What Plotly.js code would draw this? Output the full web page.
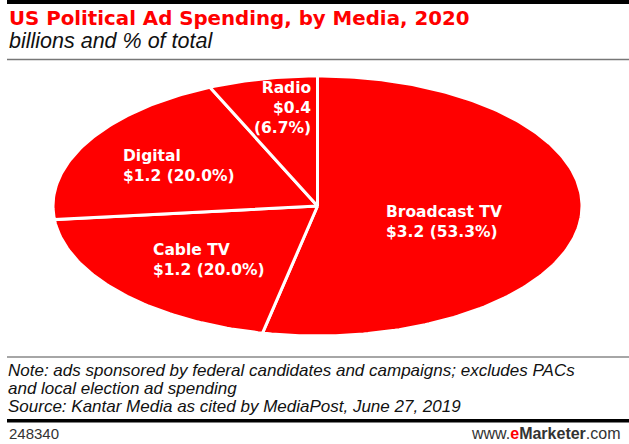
<!DOCTYPE html>
<html>
<head>
<meta charset="utf-8">
<script src="https://cdn.plot.ly/plotly-3.0.1.min.js"></script>
<style>html,body{margin:0;padding:0;background:#fff;}#chart{width:629px;height:444px;}</style>
</head>
<body>
<div id="chart"></div>
<script>
// ---- data ----
var categories = ["Broadcast TV", "Cable TV", "Digital", "Radio"];
var values = [3.2, 1.2, 1.2, 0.4];          // billions
var percents = [53.3, 20.0, 20.0, 6.7];     // % of total

var titleText = "US Political Ad Spending, by Media, 2020";
var subtitleText = "billions and % of total";
var noteLines = [
  "Note: ads sponsored by federal candidates and campaigns; excludes PACs",
  "and local election ad spending",
  "Source: Kantar Media as cited by MediaPost, June 27, 2019"
];
var chartId = "248340";

// ---- geometry helpers (plot area maps unit circle to the ellipse) ----
var W = 629, H = 444;
var L = 53, R = 582, T = 76, B = 336;
function px(x){ return (x - L) / (R - L); }
function py(y){ return (B - y) / (B - T); }

var total = values.reduce(function(a,b){return a+b;}, 0);
var traces = [];
var start = 0; // clockwise from 12 o'clock, in fraction of full turn
for (var i = 0; i < values.length; i++) {
  var frac = values[i] / total;
  var a0 = start * 2 * Math.PI, a1 = (start + frac) * 2 * Math.PI;
  var xs = [0], ys = [0];
  var n = Math.max(4, Math.ceil(frac * 360));
  for (var k = 0; k <= n; k++) {
    var a = a0 + (a1 - a0) * k / n;
    xs.push(Math.sin(a)); ys.push(Math.cos(a));
  }
  xs.push(0); ys.push(0);
  traces.push({
    type: "scatter", mode: "lines", x: xs, y: ys, fill: "toself",
    fillcolor: "#ff0000", line: {color: "#ffffff", width: 3},
    hoverinfo: "skip", showlegend: false, name: categories[i]
  });
  start += frac;
}

function lbl(i, multi){
  var v = "$" + values[i].toFixed(1), p = "(" + percents[i].toFixed(1) + "%)";
  return categories[i] + "<br>" + (multi ? v + "<br>" + p : v + " " + p);
}

var labelFont = {family: "DejaVu Sans", size: 15.5, color: "#ffffff"};
var annotations = [
  {text: "<b>" + lbl(3, true) + "</b>", x: px(313), y: py(108), xanchor: "right", yanchor: "middle", align: "right"},
  {text: "<b>" + lbl(2, false) + "</b>", x: px(121), y: py(166), xanchor: "left", yanchor: "middle", align: "left"},
  {text: "<b>" + lbl(1, false) + "</b>", x: px(151), y: py(260), xanchor: "left", yanchor: "middle", align: "left"},
  {text: "<b>" + lbl(0, false) + "</b>", x: px(384), y: py(222), xanchor: "left", yanchor: "middle", align: "left"}
].map(function(a){ a.xref="paper"; a.yref="paper"; a.showarrow=false; a.font=labelFont; return a; });

var noteYs = [370, 388, 406];
var textAnn = [
  {text: "<b>" + titleText + "</b>", x: px(7), y: py(19), xanchor: "left", yanchor: "middle",
   font: {family: "DejaVu Sans", size: 19.8, color: "#ff0000"}},
  {text: "<i>" + subtitleText + "</i>", x: px(7), y: py(41), xanchor: "left", yanchor: "middle",
   font: {family: "Liberation Sans", size: 21.5, color: "#111111"}},
  {text: chartId, x: px(7), y: py(433), xanchor: "left", yanchor: "middle",
   font: {family: "Liberation Sans", size: 15, color: "#333333"}},
  {text: "www.<b><span style='color:#ff0000'>e</span>Marketer</b>.com", x: px(623), y: py(433), xanchor: "right", yanchor: "middle",
   font: {family: "Liberation Sans", size: 16, color: "#333333"}}
];
noteLines.forEach(function(t, j){
  textAnn.push({text: "<i>" + t + "</i>", x: px(7), y: py(noteYs[j]), xanchor: "left", yanchor: "middle", align: "left",
    borderpad: 0, font: {family: "Liberation Sans", size: 17, color: "#111111"}});
});
textAnn = textAnn.map(function(a){ a.xref="paper"; a.yref="paper"; a.showarrow=false; return a; });

var shapes = [
  {type: "rect", x0: px(7), x1: px(629), y0: py(0), y1: py(4), fillcolor: "#000000", line: {width: 0}},
  {type: "line", x0: px(7), x1: px(629), y0: py(59.5), y1: py(59.5), line: {color: "#777777", width: 1.5}},
  {type: "line", x0: px(7), x1: px(629), y0: py(357), y1: py(357), line: {color: "#888888", width: 1.5}},
  {type: "rect", x0: px(7), x1: px(629), y0: py(419), y1: py(422.5), fillcolor: "#000000", line: {width: 0}}
].map(function(s){ s.xref="paper"; s.yref="paper"; s.layer="above"; return s; });

var layout = {
  width: W, height: H,
  margin: {l: L, r: W - R, t: T, b: H - B, pad: 0},
  paper_bgcolor: "#ffffff", plot_bgcolor: "#ffffff",
  xaxis: {range: [-1, 1], visible: false, fixedrange: true},
  yaxis: {range: [-1, 1], visible: false, fixedrange: true},
  showlegend: false,
  annotations: annotations.concat(textAnn),
  shapes: shapes
};

Plotly.newPlot("chart", traces, layout, {staticPlot: true, displayModeBar: false});
</script>
</body>
</html>
